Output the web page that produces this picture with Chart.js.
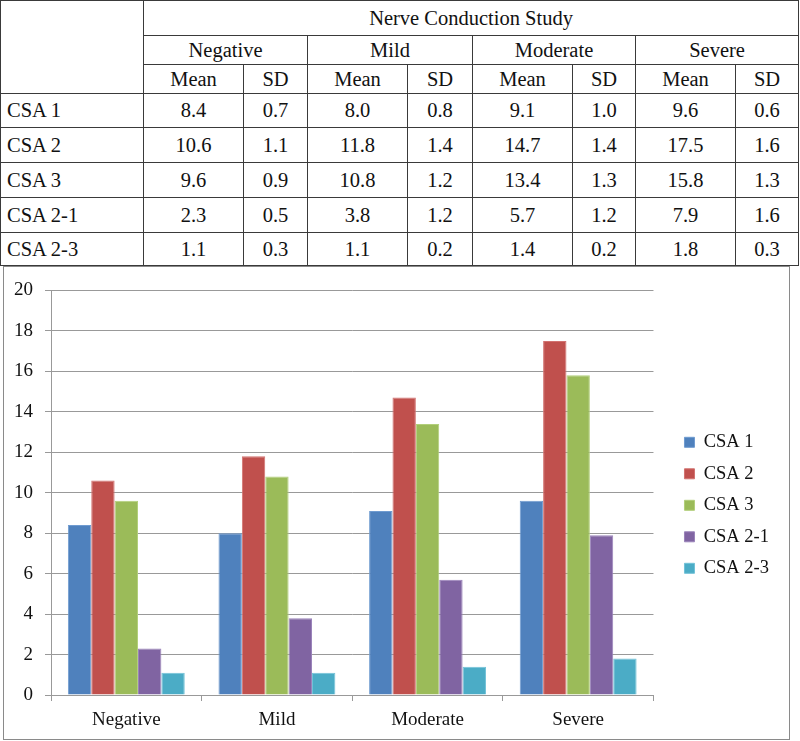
<!DOCTYPE html>
<html lang="en">
<head>
  <meta charset="UTF-8" />
  <title>Nerve Conduction Study - CSA</title>
  <script src="https://cdn.jsdelivr.net/npm/chart.js"></script>
  <style>
    * {
      margin: 0;
      padding: 0;
      box-sizing: border-box;
    }
    body {
      background: #fff;
      width: 800px;
      height: 741px;
      position: relative;
      font-family: 'Liberation Serif', 'Times New Roman', serif;
      color: #111;
    }
    table {
      position: absolute;
      left: 0;
      top: 0;
      width: 798px;
      border-collapse: collapse;
      table-layout: fixed;
      font-size: 20.5px;
    }
    table th, table td {
      border: 1.5px solid #3a3a3a;
      font-weight: normal;
      text-align: center;
      padding: 0;
      line-height: 1;
    }
    table td.rowname {
      text-align: left;
      padding-left: 6px;
    }
    .chart-box {
      position: absolute;
      left: 3px;
      top: 266px;
      width: 787px;
      height: 474px;
      border: 1px solid #8a8a8a;
    }
  </style>
</head>
<body>

  <table id="csaTable">
    <colgroup>
      <col style="width:143px"><col style="width:100px"><col style="width:64px">
      <col style="width:100px"><col style="width:65px"><col style="width:100px">
      <col style="width:63px"><col style="width:100px"><col style="width:63px">
    </colgroup>
    <thead>
      <tr style="height:35px">
        <th rowspan="3"></th>
        <th colspan="8">Nerve Conduction Study</th>
      </tr>
      <tr style="height:29px" id="groupRow"></tr>
      <tr style="height:29px" id="statRow"></tr>
    </thead>
    <tbody id="csaBody"></tbody>
  </table>

  <div class="chart-box">
    <canvas id="csaChart"></canvas>
  </div>

  <script>
    // categories (nerve conduction severity)
    const categories = ['Negative', 'Mild', 'Moderate', 'Severe'];
    const seriesNames = ['CSA 1', 'CSA 2', 'CSA 3', 'CSA 2-1', 'CSA 2-3'];

    // mean values per series (Negative, Mild, Moderate, Severe)
    const csa1Mean = [8.4, 8.0, 9.1, 9.6];
    const csa2Mean = [10.6, 11.8, 14.7, 17.5];
    const csa3Mean = [9.6, 10.8, 13.4, 15.8];
    const csa21Mean = [2.3, 3.8, 5.7, 7.9];
    const csa23Mean = [1.1, 1.1, 1.4, 1.8];

    // SD values per series
    const csa1SD = ['0.7', '0.8', '1.0', '0.6'];
    const csa2SD = ['1.1', '1.4', '1.4', '1.6'];
    const csa3SD = ['0.9', '1.2', '1.3', '1.3'];
    const csa21SD = ['0.5', '1.2', '1.2', '1.6'];
    const csa23SD = ['0.3', '0.2', '0.2', '0.3'];

    const yTicks = [0, 2, 4, 6, 8, 10, 12, 14, 16, 18, 20];

    const means = [csa1Mean, csa2Mean, csa3Mean, csa21Mean, csa23Mean];
    const sds = [csa1SD, csa2SD, csa3SD, csa21SD, csa23SD];
    const fills = ['#4f81bd', '#c0504d', '#9bbb59', '#8064a2', '#4bacc6'];
    const edges = ['#6f9bd0', '#d27270', '#b2cf7a', '#9a83ba', '#72c2d8'];

    // build the table
    function populateTable() {
      const groupRow = document.getElementById('groupRow');
      const statRow = document.getElementById('statRow');
      categories.forEach((c) => {
        groupRow.innerHTML += `<th colspan="2">${c}</th>`;
        statRow.innerHTML += '<th>Mean</th><th>SD</th>';
      });
      const body = document.getElementById('csaBody');
      const heights = [34, 35, 35, 35, 33];
      seriesNames.forEach((name, i) => {
        const row = document.createElement('tr');
        row.style.height = heights[i] + 'px';
        let html = `<td class="rowname">${name}</td>`;
        categories.forEach((c, j) => {
          html += `<td>${means[i][j].toFixed(1)}</td><td>${sds[i][j]}</td>`;
        });
        row.innerHTML = html;
        body.appendChild(row);
      });
    }

    function renderChart() {
      const ctx = document.getElementById('csaChart').getContext('2d');
      const serif = "'Liberation Serif', 'Times New Roman', serif";
      const tickFont = { family: serif, size: 19 };
      new Chart(ctx, {
        type: 'bar',
        data: {
          labels: categories,
          datasets: seriesNames.map((name, i) => ({
            label: name,
            data: means[i],
            backgroundColor: fills[i],
            borderColor: edges[i],
            borderWidth: 1,
            categoryPercentage: 0.776,
            barPercentage: 1
          }))
        },
        options: {
          responsive: true,
          maintainAspectRatio: false,
          animation: false,
          layout: { padding: { top: 19, right: 10, bottom: 0, left: 0 } },
          plugins: {
            tooltip: { enabled: false },
            legend: {
              position: 'right',
              fullSize: false,
              // empty title just nudges the items down a little
              title: { display: true, text: ' ', font: { size: 1 }, padding: { top: 12, bottom: 12 } },
              labels: {
                boxWidth: 10,
                boxHeight: 10,
                padding: 13,
                color: '#111',
                font: { family: serif, size: 18.5 }
              }
            }
          },
          scales: {
            x: {
              grid: { drawOnChartArea: false, color: '#999', tickLength: 6, offset: true },
              border: { color: '#999' },
              ticks: { color: '#111', font: tickFont, padding: 8 },
              afterFit: (s) => { s.height = 44; }
            },
            y: {
              min: 0,
              max: 20,
              afterBuildTicks: (s) => { s.ticks = yTicks.map((v) => ({ value: v })); },
              grid: { color: '#999', tickLength: 6 },
              border: { color: '#999' },
              ticks: { color: '#111', font: tickFont, padding: 12 },
              afterFit: (s) => { s.width = 47; }
            },
            gap: {
              position: 'right',
              grid: { display: false },
              border: { display: false },
              ticks: { display: false },
              afterFit: (s) => { s.width = 18; }
            }
          }
        }
      });
    }

    populateTable();
    renderChart();
  </script>

</body>
</html>
